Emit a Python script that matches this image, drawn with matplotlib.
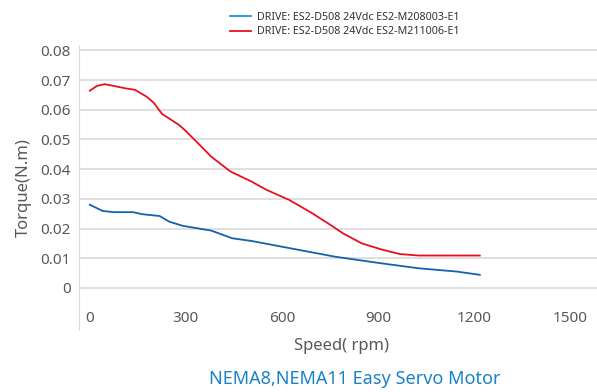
import matplotlib
matplotlib.use('Agg')
import matplotlib.pyplot as plt
from matplotlib.lines import Line2D

plt.rcParams['font.family'] = ['Noto Sans', 'DejaVu Sans']

# ── Data ───────────────────────────────────────────────────────────────────
speed_a  = [0, 40, 75, 135, 165, 218, 248, 290, 379, 445, 505, 623, 766, 909, 1027, 1146, 1218]
torque_a = [0.0280, 0.0259, 0.0255, 0.0255, 0.0248, 0.0242, 0.0223, 0.0209, 0.0193,
            0.0167, 0.0158, 0.0134, 0.0105, 0.0083, 0.0066, 0.0055, 0.0044]

speed_b  = [0, 22, 46, 75, 111, 141, 177, 200, 225, 254, 278, 296, 338, 379, 439, 505,
            552, 623, 695, 760, 790, 849, 909, 968, 1027, 1218]
torque_b = [0.0664, 0.0680, 0.0686, 0.0680, 0.0672, 0.0667, 0.0644, 0.0623, 0.0586,
            0.0566, 0.0549, 0.0532, 0.0487, 0.0442, 0.0392, 0.0358, 0.0330, 0.0296,
            0.0251, 0.0206, 0.0184, 0.0150, 0.0130, 0.0114, 0.0109, 0.0109]

label_a = 'DRIVE: ES2-D508 24Vdc ES2-M208003-E1'
label_b = 'DRIVE: ES2-D508 24Vdc ES2-M211006-E1'

x_ticks = [0, 300, 600, 900, 1200, 1500]
y_ticks = [0, 0.01, 0.02, 0.03, 0.04, 0.05, 0.06, 0.07, 0.08]
y_tick_labels = ['0', '0.01', '0.02', '0.03', '0.04', '0.05', '0.06', '0.07', '0.08']

# ── Plot ───────────────────────────────────────────────────────────────────
fig = plt.figure(figsize=(5.97, 3.92), dpi=100)
ax = fig.add_axes([0.1323, 0.158, 0.8677, 0.725])

ax.plot(speed_a, torque_a, color='#1561b0', lw=1.3)
ax.plot(speed_b, torque_b, color='#e8101e', lw=1.3)

ax.set_xlim(-34, 1584)
ax.set_ylim(-0.0142, 0.0815)
ax.set_xticks(x_ticks)
ax.set_yticks(y_ticks)
ax.set_yticklabels(y_tick_labels)
ax.grid(axis='y', color='#d9d9d9', lw=1.2)
ax.set_axisbelow(True)

for side in ['top', 'right', 'bottom']:
    ax.spines[side].set_visible(False)
ax.spines['left'].set_color('#d9d9d9')

ax.tick_params(axis='y', length=0, pad=6, labelsize=11, labelcolor='#595959')
ax.tick_params(axis='x', length=0, pad=-14, labelsize=11, labelcolor='#595959')

ax.set_ylabel('Torque(N.m)', fontsize=12, color='#595959', labelpad=0)
ax.yaxis.set_label_coords(-0.09, 0.5)
fig.text(0.572, 0.118, 'Speed( rpm)', fontsize=12, color='#595959', ha='center', va='center')
fig.text(0.595, 0.033, 'NEMA8,NEMA11 Easy Servo Motor', fontsize=13, color='#1a82c8',
         ha='center', va='center')

handles = [Line2D([], [], color='#1e95e6', lw=1.3),
           Line2D([], [], color='#e8101e', lw=1.3)]
fig.legend(handles, [label_a, label_b], loc='center', bbox_to_anchor=(0.577, 0.937),
           frameon=False, fontsize=7.7, handlelength=2.0, handletextpad=0.5,
           labelspacing=0.3, labelcolor='#333333')

plt.savefig('out.png', dpi=100)
